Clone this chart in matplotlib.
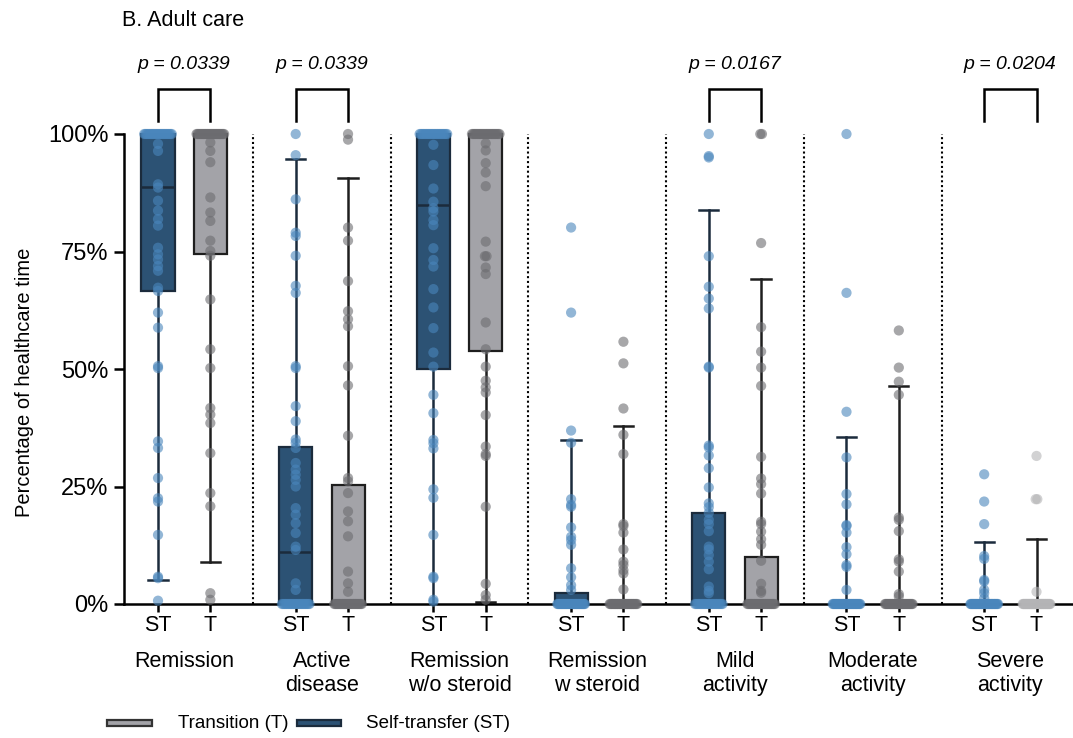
import matplotlib
matplotlib.use("Agg")
import matplotlib.pyplot as plt
from matplotlib.patches import Rectangle
import matplotlib.transforms as mtransforms
import numpy as np

plt.rcParams['font.family'] = ['Liberation Sans', 'DejaVu Sans']

# ---------------- data ----------------
categories = ["Remission", "Active\ndisease", "Remission\nw/o steroid", "Remission\nw steroid",
              "Mild\nactivity", "Moderate\nactivity", "Severe\nactivity"]
group_labels = ["ST", "T"]

remission_st = [100] * 22 + [97.9, 96.4, 89.3, 88.6, 85.8, 83.7, 81.9, 80.5, 75.8, 74.4, 73.3, 71.9, 70.9,
                             67.3, 66.6, 62.0, 58.8, 50.6, 50.2, 34.6, 33.2, 26.8, 22.5, 21.8, 14.7, 5.8, 5.5, 0.7]
remission_t = [100] * 26 + [98.2, 96.4, 94.0, 86.5, 83.3, 81.5, 77.3, 75.1, 74.1, 64.8, 54.2, 50.2, 41.7,
                            40.3, 38.5, 32.1, 23.6, 20.8, 2.3, 0.9]
active_st = [0] * 22 + [100, 95.5, 86.1, 79.0, 78.3, 74.1, 67.7, 66.2, 50.6, 50.2, 42.1, 38.9, 35.0, 34.3,
                        33.2, 30.0, 28.6, 27.5, 26.4, 25.0, 20.4, 19.0, 17.2, 15.1, 12.2, 11.5, 4.4, 3.0]
active_t = [0] * 26 + [100, 98.8, 80.1, 77.3, 68.7, 62.3, 60.6, 59.1, 50.6, 46.5, 35.8, 26.8, 26.1, 23.6,
                       19.7, 17.6, 14.4, 6.9, 4.4, 2.6]
rem_wo_st = [100] * 21 + [97.7, 93.4, 88.4, 85.6, 84.2, 83.5, 81.7, 80.6, 75.7, 73.2, 71.8, 67.0, 63.1, 58.7,
                          53.5, 50.5, 44.5, 40.6, 34.9, 34.2, 33.1, 24.4, 22.6, 14.7, 5.8, 5.5, 0.9, 0.5]
rem_wo_t = [100] * 24 + [98.0, 96.5, 93.8, 91.8, 88.9, 77.1, 74.0, 74.0, 71.6, 70.2, 59.9, 54.2, 50.5, 47.5,
                         46.1, 45.0, 40.2, 33.5, 31.9, 31.5, 20.7, 4.3, 1.9, 0.9]
rem_w_st = [0] * 35 + [80.1, 62.0, 36.9, 34.3, 22.3, 21.1, 20.7, 16.3, 14.3, 13.6, 12.6, 7.6, 5.7, 4.0, 3.0]
rem_w_t = [0] * 32 + [55.8, 51.2, 41.6, 36.0, 31.9, 17.0, 16.6, 15.2, 11.6, 9.0, 8.3, 7.2, 6.5, 3.1]
mild_st = [0] * 22 + [100, 95.3, 95.0, 74.0, 67.5, 65.0, 62.9, 50.5, 50.3, 33.7, 33.3, 31.6, 28.9, 24.8, 21.4,
                      20.6, 19.4, 17.9, 17.0, 15.5, 12.2, 11.6, 10.4, 9.0, 7.4, 3.7, 2.8, 2.3]
mild_t = [0] * 26 + [100, 100, 76.8, 58.9, 53.7, 50.3, 46.4, 31.3, 26.7, 25.5, 23.5, 17.5, 17.0, 15.4, 13.8,
                     12.6, 9.2, 4.3, 2.8, 2.4]
moderate_st = [0] * 35 + [100, 66.2, 40.9, 31.2, 23.4, 21.2, 16.8, 16.6, 15.2, 12.1, 10.6, 8.3, 7.9, 3.0]
moderate_t = [0] * 33 + [58.2, 50.3, 47.3, 44.5, 18.4, 17.9, 15.5, 9.5, 9.0, 6.9, 2.1, 1.6]
severe_st = [0] * 38 + [27.6, 21.8, 17.0, 10.2, 9.6, 5.1, 4.8, 3.0, 2.3, 1.2]
severe_t = [0] * 42 + [31.5, 22.3, 22.3, 2.6]

st_values = [remission_st, active_st, rem_wo_st, rem_w_st, mild_st, moderate_st, severe_st]
t_values = [remission_t, active_t, rem_wo_t, rem_w_t, mild_t, moderate_t, severe_t]

# box statistics: [ST, T] per category
q1_st = [66.5, 0, 50.0, 0, 0, 0, 0]
q1_t = [74.5, 0, 53.8, 0, 0, 0, 0]
med_st = [88.7, 11.1, 84.9, 0, 0, 0, 0]
med_t = [100, 0, 100, 0, 0, 0, 0]
q3_st = [100, 33.4, 100, 2.3, 19.3, 0, 0]
q3_t = [100, 25.3, 100, 0, 9.9, 0, 0]
wlo_st = [5.1, 0, 0, 0, 0, 0, 0]
wlo_t = [8.9, 0, 0.4, 0, 0, 0, 0]
whi_st = [100, 94.7, 100, 35.0, 83.8, 35.5, 13.2]
whi_t = [100, 90.6, 100, 37.9, 69.1, 46.4, 13.8]

p_groups = [0, 1, 4, 6]
p_texts = ["p = 0.0339", "p = 0.0339", "p = 0.0167", "p = 0.0204"]

legend_labels = ["Transition (T)", "Self-transfer (ST)"]

# ---------------- styles ----------------
ST_FILL, ST_EDGE, ST_PT = "#2c5274", "#1b2b3c", "#4a86bc"
T_FILL, T_EDGE, T_PT = "#a3a3a8", "#1e1e1e", "#6c6c70"
T_PT_LIGHT = "#b4b4b6"

W, H = 1073, 738
fig = plt.figure(figsize=(W / 100, H / 100), dpi=100)
ax = fig.add_axes([124 / W, (H - 604) / H, (W - 124) / W, 470 / H])
ax.set_xlim(-0.437, 6.455)
ax.set_ylim(0, 100)

off = 0.19
bw = 0.24
cw = 0.07


def swarm(vals):
    vals = np.asarray(vals, float)
    xs = np.zeros(len(vals))
    uniq = {}
    for i, v in enumerate(vals):
        uniq.setdefault(round(v, 3), []).append(i)
    for v, idx in uniq.items():
        k = len(idx)
        if k > 1:
            pitch = min(0.012, 0.2 / (k - 1))
            o = (np.arange(k) - (k - 1) / 2) * pitch
            xs[idx] = o
    return xs


def draw_box(x, q1, med, q3, wlo, whi, fill, edge, z=2):
    ax.add_patch(Rectangle((x - bw / 2, q1), bw, q3 - q1, facecolor=fill, edgecolor=edge,
                           lw=1.6, zorder=z, clip_on=False))
    ax.plot([x - bw / 2, x + bw / 2], [med, med], color=edge, lw=1.8, zorder=z + 0.1,
            solid_capstyle='butt', clip_on=False)
    if whi > q3:
        ax.plot([x, x], [q3, whi], color=edge, lw=1.8, zorder=z - 0.5, clip_on=False)
        ax.plot([x - cw, x + cw], [whi, whi], color=edge, lw=1.8, zorder=z - 0.5, clip_on=False)
    if wlo < q1:
        ax.plot([x, x], [wlo, q1], color=edge, lw=1.8, zorder=z - 0.5, clip_on=False)
        if wlo > 0:
            ax.plot([x - cw, x + cw], [wlo, wlo], color=edge, lw=1.8, zorder=z - 0.5, clip_on=False)


for i in range(len(categories)):
    xs_st, xt = i - off, i + off
    draw_box(xs_st, q1_st[i], med_st[i], q3_st[i], wlo_st[i], whi_st[i], ST_FILL, ST_EDGE)
    draw_box(xt, q1_t[i], med_t[i], q3_t[i], wlo_t[i], whi_t[i], T_FILL, T_EDGE)
    ax.scatter(xs_st + swarm(st_values[i]), st_values[i], s=54, color=ST_PT, alpha=0.6,
               edgecolors='none', zorder=4, clip_on=False)
    tcol = T_PT_LIGHT if i == 6 else T_PT
    ax.scatter(xt + swarm(t_values[i]), t_values[i], s=54, color=tcol, alpha=0.6,
               edgecolors='none', zorder=4, clip_on=False)

# dotted separators
for i in range(len(categories) - 1):
    ax.plot([i + 0.5, i + 0.5], [0, 100], color="black", lw=1.5, ls=(0, (1, 1.3)), zorder=1)

# p-value brackets
for g, txt in zip(p_groups, p_texts):
    x0, x1 = g - off, g + off
    ax.plot([x0, x0, x1, x1], [102.8, 109.6, 109.6, 102.8], color="black", lw=1.8,
            clip_on=False, solid_joinstyle='miter')
    ax.text(g, 114.8, txt, ha='center', va='center', fontsize=14, style='italic', clip_on=False)

# axes styling
for s in ["top", "right"]:
    ax.spines[s].set_visible(False)
ax.spines["left"].set_linewidth(1.8)
ax.spines["bottom"].set_linewidth(1.8)
ax.spines["bottom"].set_zorder(3)

ticks = []
labels = []
for i in range(len(categories)):
    ticks += [i - off, i + off]
    labels += group_labels
ax.set_xticks(ticks)
ax.set_xticklabels(labels, fontsize=15.5)
ax.tick_params(axis='x', length=6, width=1.8, pad=2)
ax.set_yticks([0, 25, 50, 75, 100])
ax.set_yticklabels(["0%", "25%", "50%", "75%", "100%"], fontsize=17)
ax.tick_params(axis='y', length=7, width=1.8, pad=4)

trans = mtransforms.blended_transform_factory(ax.transData, ax.transAxes)
for i, c in enumerate(categories):
    ax.text(i, -0.1, c, transform=trans, ha='center', va='top', fontsize=15.5, linespacing=1.2)

fig.text(25 / W, 1 - 382 / H, "Percentage of healthcare time", rotation=90, ha='center', va='center',
         fontsize=14.5)
fig.text(122 / W, 1 - 20 / H, "B. Adult care", ha='left', va='center', fontsize=15.5)

# legend (manual)
leg_y = 723
for (x0, x1, tx, lab, fc, ec) in [(107, 152, 178, legend_labels[0], T_FILL, "#333333"),
                                   (297, 341, 366, legend_labels[1], ST_FILL, ST_EDGE)]:
    fig.patches.append(Rectangle((x0 / W, 1 - (leg_y + 3) / H), (x1 - x0) / W, 6 / H, facecolor=fc,
                                 edgecolor=ec, lw=1.6, transform=fig.transFigure, figure=fig))
    fig.text(tx / W, 1 - leg_y / H, lab, ha='left', va='center', fontsize=13.5)

fig.savefig("out.png", dpi=100)
